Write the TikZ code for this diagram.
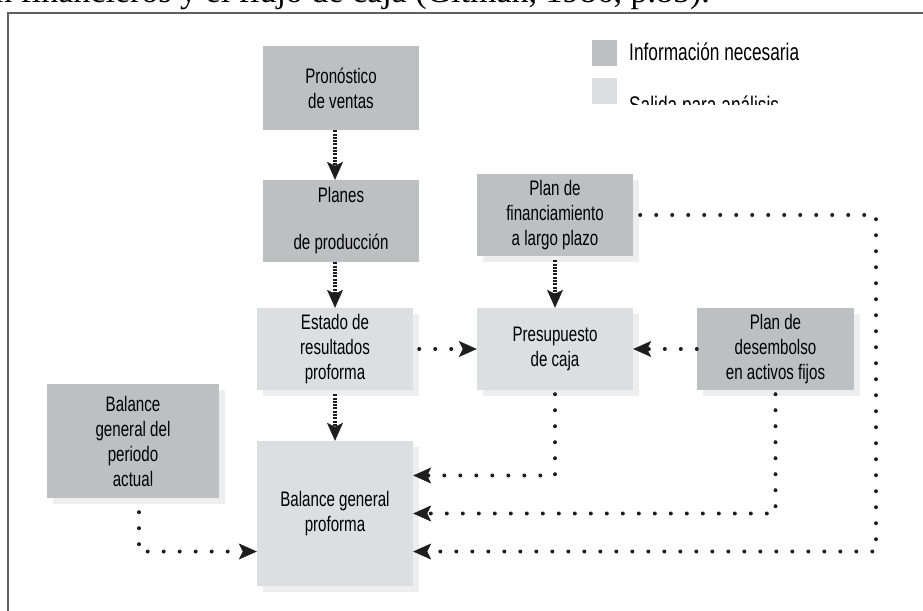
\documentclass[tikz,border=0pt]{standalone}
\usepackage{fontspec}
\setmainfont{Liberation Sans}[FakeStretch=0.72]
\newfontfamily\capfont{Liberation Serif}
\usetikzlibrary{arrows.meta,calc,shadows}
\definecolor{darkg}{RGB}{190,191,193}
\definecolor{lightg}{RGB}{221,222,224}
\definecolor{shadowg}{RGB}{238,238,238}
\definecolor{framec}{RGB}{96,96,96}
\definecolor{dotc}{RGB}{30,30,30}
\tikzset{
  boxbase/.style={minimum width=156pt, minimum height=82pt, inner sep=0pt, align=center,
    font=\fontsize{21}{25}\selectfont},
  withshadow/.style={general shadow={fill=shadowg, shadow xshift=6pt, shadow yshift=-6pt}},
  darkbox/.style={boxbase, fill=darkg},
  lightbox/.style={boxbase, fill=lightg},
  arrowend/.style={-{Stealth[length=18pt,width=16pt,inset=4pt,fill=dotc,line width=0.5pt]}},
  dotline/.style={draw=dotc, line width=4pt, dash pattern=on 0pt off 16pt, line cap=round, arrowend},
  shortline/.style={draw=dotc, line width=3.2pt, dash pattern=on 2pt off 1.3pt, arrowend},
}
\begin{document}
\begin{tikzpicture}[x=1pt,y=-1pt]
\useasboundingbox (0,0) rectangle (923,610);
\begin{scope}
\clip (0,0) rectangle (923,610);
% caption (cut off at top)
\node[anchor=base east, inner sep=0pt, font=\capfont\fontsize{34}{40}\selectfont] (caption) at (710,3)
  {Figura 1. Relación entre los planes de inversión financieros y el flujo de caja (Gitman, 1986, p.85).};
% frame
\draw[framec, line width=2pt] (8,640) -- (8,13) -- (950,13);
\end{scope}

% legend
\fill[darkg] (592,40) rectangle (617,66);
\fill[lightg] (592,78) rectangle (617,104);
\node[anchor=base west, inner sep=0pt, font=\fontsize{24}{28}\selectfont] (leg1) at (629,60) {Información necesaria};
\begin{scope}
\clip (620,70) rectangle (900,104);
\node[anchor=base west, inner sep=0pt, font=\fontsize{24}{28}\selectfont] (leg2) at (629,113) {Salida para análisis};
\end{scope}

% boxes
\node[darkbox, minimum height=84pt] (pron) at (341,88) {Pronóstico\\de ventas};
\node[darkbox] (plan) at (341,221) {Planes\\[22pt]de producción};
\node[lightbox, withshadow] (est) at (335,349) {Estado de\\resultados\\proforma};
\node[lightbox, withshadow, minimum height=145pt] (bgp) at (335,513.5) {Balance general\\proforma};
\node[darkbox, withshadow, minimum width=172pt, minimum height=114pt] (bga) at (133,441) {Balance\\general del\\periodo\\actual};
\node[darkbox, withshadow] (fin) at (555,215) {Plan de\\financiamiento\\a largo plazo};
\node[lightbox, withshadow] (pres) at (555,349) {Presupuesto\\de caja};
\node[darkbox, withshadow, minimum width=157pt] (des) at (775.5,349) {Plan de\\desembolso\\en activos fijos};

\coordinate (fr) at (876,215);

% connectors
\draw[shortline] (pron.south -| est.north) -- (plan.north -| est.north);
\draw[shortline] (plan.south -| est.north) -- (est.north);
\draw[shortline] ($(est.south)+(0,4)$) -- (bgp.north);
\draw[shortline] ($(fin.south)+(0,4)$) -- (pres.north);
\draw[dotline] ($(est.east)+(6,0)$) -- (pres.west);
\draw[dotline] (des.west) -- (pres.east);
\draw[dotline] ($(pres.south)+(0,4)$) |- ($(bgp.east)+(0,-38)$);
\draw[dotline] ($(des.south)+(0,4)$) |- (bgp.east);
\draw[dotline] ($(fin.east)+(7,0)$) -- (fr) |- ($(bgp.east)+(0,38)$);
\draw[dotline] ($(bga.south)+(6,14)$) |- ($(bgp.west)+(0,38)$);
\end{tikzpicture}
\end{document}
